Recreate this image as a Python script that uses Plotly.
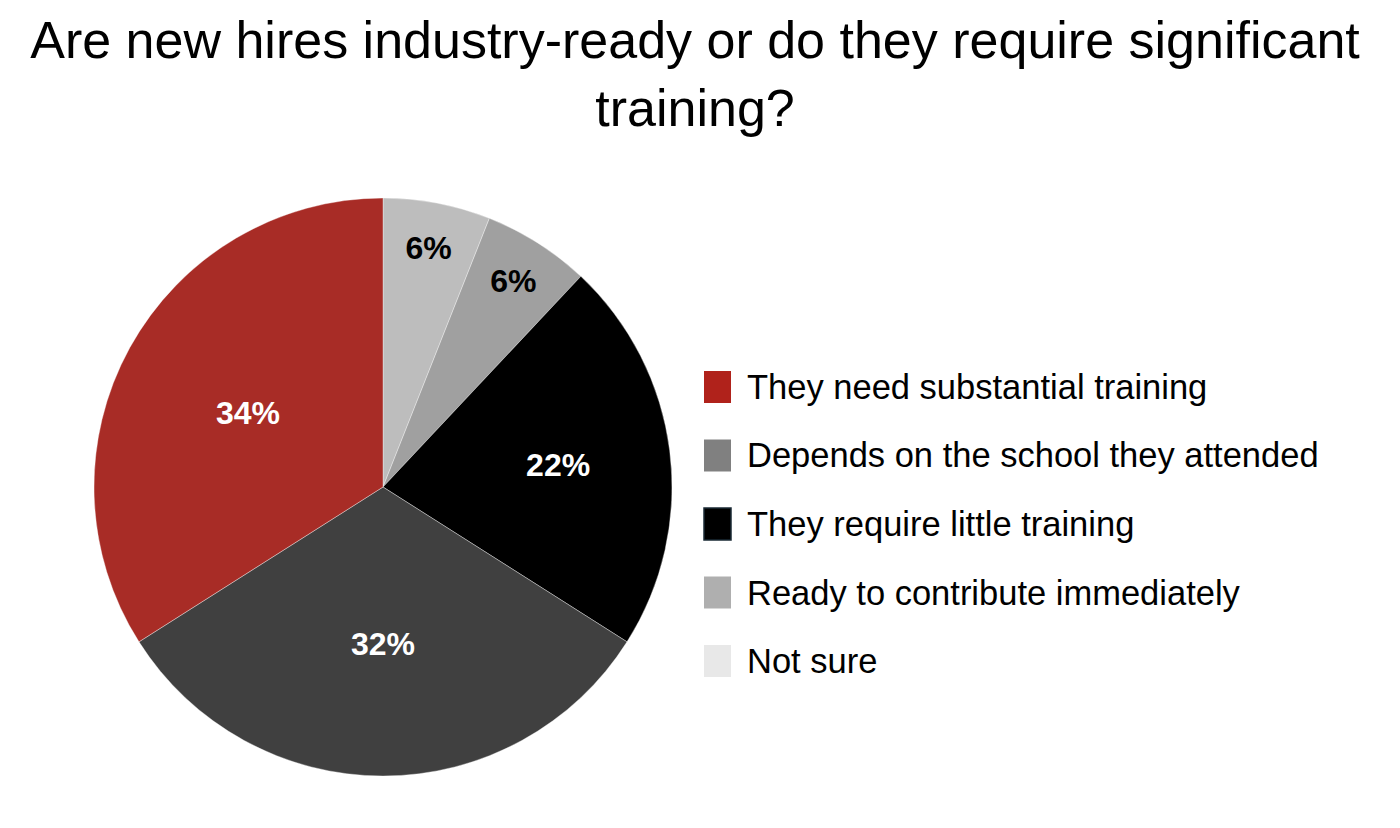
import plotly.graph_objects as go

labels = [
    "They need substantial training",
    "Depends on the school they attended",
    "They require little training",
    "Ready to contribute immediately",
    "Not sure",
]
values = [34, 32, 22, 6, 6]
slice_colors = ["#a82c26", "#404040", "#000000", "#a0a0a0", "#bdbdbd"]
legend_colors = ["#b0221b", "#808080", "#000000", "#afafaf", "#e8e8e8"]
text_colors = ["white", "white", "white", "black", "black"]

W, H = 1400, 828

# the original runs counterclockwise from 12 o'clock, so feed the pie reversed and clockwise
fig = go.Figure(
    go.Pie(
        labels=labels[::-1],
        values=values[::-1],
        sort=False,
        direction="clockwise",
        marker=dict(colors=slice_colors[::-1], line=dict(width=0.6, color="rgba(255,255,255,0.6)")),
        texttemplate="%{value}%",
        textposition="inside",
        insidetextorientation="horizontal",
        insidetextfont=dict(family="Liberation Sans", size=32, weight="bold", color=text_colors[::-1]),
        hoverinfo="label+percent",
        showlegend=False,
        domain=dict(x=[(375 - 289) / W, (375 + 289) / W], y=[60 / H, 638 / H]),
    )
)

# legend drawn by hand so the swatches are the size of the original
for i, (lab, col) in enumerate(zip(labels, legend_colors)):
    yc = 379 + i * 68.5
    fig.add_shape(
        type="rect", xref="paper", yref="paper",
        x0=696 / W, x1=723 / W, y0=1 - (yc - 16) / H, y1=1 - (yc + 16) / H,
        fillcolor=col, line=dict(width=1.5 if col == "#000000" else 0, color="#1a2a35"),
    )
    fig.add_annotation(
        x=737 / W, y=1 - yc / H, xref="paper", yref="paper",
        text=lab, showarrow=False, xanchor="left", yanchor="middle",
        font=dict(family="Liberation Sans", size=34.5, color="black"),
    )

fig.update_layout(
    width=W,
    height=H,
    margin=dict(l=0, r=0, t=0, b=0),
    paper_bgcolor="white",
    title=dict(
        text="Are new hires industry-ready or do they require significant<br>training?",
        x=(700 - 13) / W, xanchor="center", y=1 - 50 / H, yanchor="middle",
        font=dict(family="Liberation Sans", size=52, color="black"),
    ),
)

fig.write_html("out.html")
